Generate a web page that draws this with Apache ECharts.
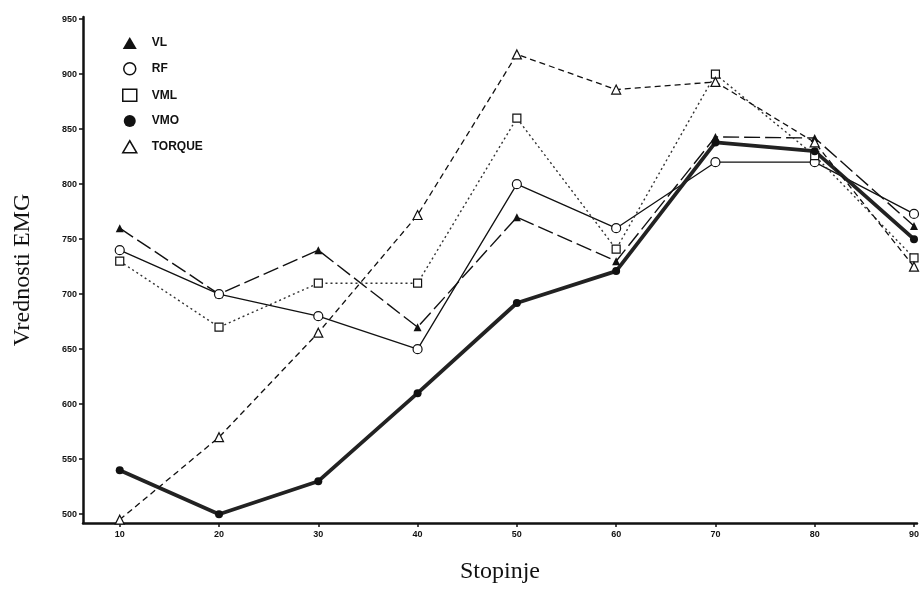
<!DOCTYPE html>
<html>
<head>
<meta charset="utf-8">
<script src="https://cdn.jsdelivr.net/npm/echarts@6/dist/echarts.min.js"></script>
<style>
  html, body { margin: 0; padding: 0; background: #fff; }
  #main { width: 922px; height: 589px; }
</style>
</head>
<body>
<div id="main"></div>
<script>
// stopinje (x) and EMG values per muscle
var angles = [10, 20, 30, 40, 50, 60, 70, 80, 90];
var yTicks = [500, 550, 600, 650, 700, 750, 800, 850, 900, 950];
var vl     = [760, 700, 740, 670, 770, 730, 843, 842, 762];
var rf     = [740, 700, 680, 650, 800, 760, 820, 820, 773];
var vml    = [730, 670, 710, 710, 860, 741, 900, 826, 733];
var vmo    = [540, 500, 530, 610, 692, 721, 838, 830, 750];
var torque = [495, 570, 665, 772, 918, 886, 893, 838, 725];

function pairs(arr) {
  return angles.map(function (a, i) { return [a, arr[i]]; });
}

var chart = echarts.init(document.getElementById('main'), null, { renderer: 'canvas' });
var ink = '#111';
var tickFont = { color: ink, fontSize: 9, fontWeight: 'bold', fontFamily: 'Liberation Sans' };

var option = {
  animation: false,
  backgroundColor: '#fff',
  grid: { left: 83, right: 4, top: 17, bottom: 64 },
  legend: {
    orient: 'vertical',
    left: 117,
    top: 32,
    itemWidth: 14,
    itemHeight: 12,
    itemGap: 13,
    textStyle: { color: ink, fontSize: 12, fontWeight: 'bold', fontFamily: 'Liberation Sans', padding: [0, 0, 0, 10] },
    data: [
      { name: 'VL', icon: 'triangle', itemStyle: { color: ink } },
      { name: 'RF', icon: 'circle', itemStyle: { color: '#fff', borderColor: ink, borderWidth: 1.5 } },
      { name: 'VML', icon: 'rect', itemStyle: { color: '#fff', borderColor: ink, borderWidth: 1.5 } },
      { name: 'VMO', icon: 'circle', itemStyle: { color: ink } },
      { name: 'TORQUE', icon: 'triangle', itemStyle: { color: '#fff', borderColor: ink, borderWidth: 1.5 } }
    ]
  },
  xAxis: {
    type: 'value',
    min: 6.3,
    max: 90.3,
    name: 'Stopinje',
    nameLocation: 'middle',
    nameGap: 37,
    nameTextStyle: { color: ink, fontSize: 24, fontFamily: 'Liberation Serif' },
    axisLine: { lineStyle: { color: ink, width: 2.5 } },
    axisTick: { customValues: angles, length: 4, lineStyle: { color: ink, width: 1.5 } },
    axisLabel: Object.assign({ customValues: angles, margin: 7 }, tickFont),
    splitLine: { show: false }
  },
  yAxis: {
    type: 'value',
    min: 492,
    max: 952,
    name: 'Vrednosti EMG',
    nameLocation: 'middle',
    nameGap: 48,
    nameTextStyle: { color: ink, fontSize: 24, fontFamily: 'Liberation Serif' },
    axisLine: { show: true, lineStyle: { color: ink, width: 2.5 } },
    axisTick: { show: true, customValues: yTicks, length: 4, lineStyle: { color: ink, width: 1.5 } },
    axisLabel: Object.assign({ customValues: yTicks, margin: 6 }, tickFont),
    splitLine: { show: false }
  },
  series: [
    {
      name: 'VL', type: 'line', data: pairs(vl),
      symbol: 'triangle', symbolSize: 8,
      itemStyle: { color: ink },
      lineStyle: { color: ink, width: 1.4, type: [16, 5] }
    },
    {
      name: 'RF', type: 'line', data: pairs(rf),
      symbol: 'circle', symbolSize: 9,
      itemStyle: { color: '#fff', borderColor: ink, borderWidth: 1.2 },
      lineStyle: { color: ink, width: 1.3 }
    },
    {
      name: 'VML', type: 'line', data: pairs(vml),
      symbol: 'rect', symbolSize: 8,
      itemStyle: { color: '#fff', borderColor: ink, borderWidth: 1.2 },
      lineStyle: { color: '#333', width: 1.4, type: [2, 3] }
    },
    {
      name: 'VMO', type: 'line', data: pairs(vmo),
      symbol: 'circle', symbolSize: 8,
      itemStyle: { color: ink },
      lineStyle: { color: '#222', width: 3.8 }
    },
    {
      name: 'TORQUE', type: 'line', data: pairs(torque),
      symbol: 'triangle', symbolSize: 9,
      itemStyle: { color: '#fff', borderColor: ink, borderWidth: 1.2 },
      lineStyle: { color: ink, width: 1.3, type: [6, 4] }
    }
  ]
};

chart.setOption(option);
</script>
</body>
</html>
